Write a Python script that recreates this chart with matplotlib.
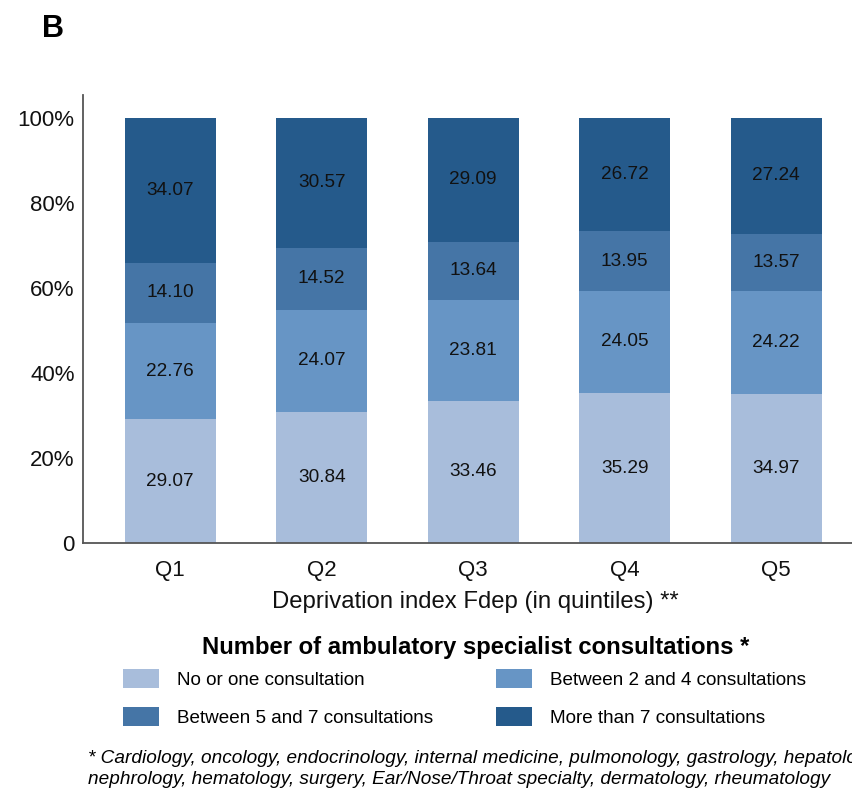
import matplotlib.pyplot as plt
import numpy as np
from matplotlib.patches import Patch

plt.rcParams["font.family"] = ["Liberation Sans", "DejaVu Sans"]

quintiles = ["Q1", "Q2", "Q3", "Q4", "Q5"]
categories = [
    "No or one consultation",
    "Between 2 and 4 consultations",
    "Between 5 and 7 consultations",
    "More than 7 consultations",
]
no_or_one = [29.07, 30.84, 33.46, 35.29, 34.97]
two_to_four = [22.76, 24.07, 23.81, 24.05, 24.22]
five_to_seven = [14.10, 14.52, 13.64, 13.95, 13.57]
more_than_seven = [34.07, 30.57, 29.09, 26.72, 27.24]
colors = ["#A8BDDB", "#6795C5", "#4575A6", "#255A8B"]

series = [no_or_one, two_to_four, five_to_seven, more_than_seven]

fig = plt.figure(figsize=(8.52, 7.91), dpi=100)
ax = fig.add_axes([0.0974, 0.3135, 0.9026, 0.5665])

x = np.arange(len(quintiles))
bottom = np.zeros(len(quintiles))
for vals, col in zip(series, colors):
    vals = np.array(vals)
    ax.bar(x, vals, bottom=bottom, width=0.6, color=col, edgecolor="none")
    for xi, b, v in zip(x, bottom, vals):
        ax.text(xi, b + v / 2, f"{v:.2f}", ha="center", va="center",
                fontsize=13.7, color="#111111")
    bottom += vals

ax.set_xlim(-0.576, 4.5)
ax.set_ylim(0, 105.4)
ax.set_yticks([0, 20, 40, 60, 80, 100])
ax.set_yticklabels(["0", "20%", "40%", "60%", "80%", "100%"])
ax.set_xticks(x)
ax.set_xticklabels(quintiles)
ax.tick_params(axis="both", length=0, labelsize=16, colors="#111111", pad=6)
ax.tick_params(axis="x", pad=12)
for s in ["top", "right"]:
    ax.spines[s].set_visible(False)
for s in ["left", "bottom"]:
    ax.spines[s].set_color("#555555")
    ax.spines[s].set_linewidth(1.3)
ax.set_xlabel("Deprivation index Fdep (in quintiles) **", fontsize=17.2,
              color="#111111", labelpad=8)
ax.xaxis.set_label_coords(0.51, -0.108)

fig.text(0.049, 0.963, "B", fontsize=22, fontweight="bold", va="center")

# legend title placed on its own so it can sit where the original has it
fig.text(0.558, 0.181, "Number of ambulatory specialist consultations *",
         fontsize=17.2, fontweight="bold", ha="center", va="center")

handles = [Patch(facecolor=c, edgecolor="none") for c in colors]
order = [0, 2, 1, 3]
leg = fig.legend([handles[i] for i in order], [categories[i] for i in order],
                 ncol=2, loc="center", bbox_to_anchor=(0.545, 0.118),
                 frameon=False, fontsize=13.6, handlelength=1.9,
                 handleheight=1.16, handletextpad=0.95, columnspacing=3.35,
                 labelspacing=0.96, borderpad=0)

# footnote runs off the right edge, as in the original figure
fig.text(0.103, 0.028,
         "* Cardiology, oncology, endocrinology, internal medicine, pulmonology, gastrology, hepatology,\n"
         "nephrology, hematology, surgery, Ear/Nose/Throat specialty, dermatology, rheumatology",
         fontsize=13.7, style="italic", va="center", ha="left", linespacing=1.32)

fig.savefig("out.png", dpi=100)
